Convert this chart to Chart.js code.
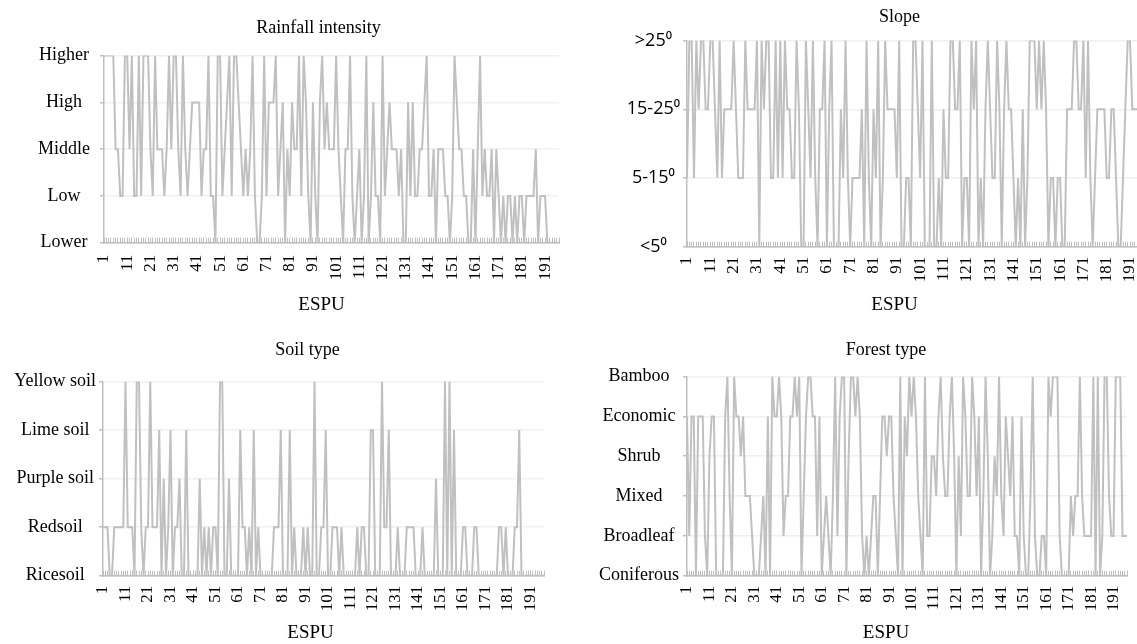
<!DOCTYPE html>
<html>
<head>
<meta charset="utf-8">
<script src="https://cdn.jsdelivr.net/npm/chart.js@4"></script>
<style>
  html, body { margin: 0; padding: 0; background: #fff; overflow: hidden; }
  body { width: 1137px; height: 644px; position: relative; }
  .panel { position: absolute; }
</style>
</head>
<body>
<div class="panel" style="left:0px;top:0px;"><canvas id="c1" width="575" height="316"></canvas></div>
<div class="panel" style="left:580px;top:0px;"><canvas id="c2" width="570" height="316"></canvas></div>
<div class="panel" style="left:0px;top:330px;"><canvas id="c3" width="575" height="314"></canvas></div>
<div class="panel" style="left:580px;top:330px;"><canvas id="c4" width="557" height="314"></canvas></div>
<script>
// ---------- DATA ----------
const N = 197;
const espuLabels = Array.from({length: N}, (_, i) => String(i + 1));

const rainfallLevels = ['Lower', 'Low', 'Middle', 'High', 'Higher'];
const rainfall = [
  4,4,4,4,4,2,2,1,1,4,
  4,2,4,1,1,4,1,4,4,4,
  2,1,4,2,2,2,1,2,4,2,
  4,4,2,1,4,2,1,2,3,3,
  3,3,1,2,2,4,1,1,0,4,
  4,1,2,3,4,1,4,4,3,2,
  1,2,1,2,4,1,0,0,1,4,
  1,3,3,3,4,1,2,3,0,2,
  1,3,2,2,4,1,4,3,1,0,
  3,1,0,3,4,2,3,2,2,2,
  4,2,1,0,2,2,4,1,0,1,
  2,0,1,4,0,1,3,1,1,0,
  4,1,2,3,2,2,2,1,2,0,
  0,3,1,3,1,1,2,2,3,4,
  1,1,2,0,2,2,2,1,1,0,
  1,4,3,2,2,1,1,0,0,2,
  0,2,4,1,2,1,1,2,0,2,
  1,0,1,0,1,1,0,1,0,1,
  1,0,1,1,1,1,2,0,1,1,
  1,0,0,0,0,0,0
];

const slopeLevels = ['<5\u2070', '5-15\u2070', '15-25\u2070', '>25\u2070'];
const slope = [
  1,3,3,1,3,2,3,3,2,2,
  3,3,2,1,3,1,2,2,2,2,
  3,2,1,1,1,3,2,2,2,2,
  3,0,3,2,3,3,1,1,3,1,
  3,1,3,2,2,1,1,3,2,0,
  0,3,2,1,3,1,0,2,2,3,
  0,2,3,0,0,0,2,1,3,1,
  0,1,1,1,1,2,0,3,1,0,
  2,1,3,0,1,3,2,2,2,2,
  1,3,0,0,1,1,0,3,3,2,
  1,3,0,0,0,3,0,0,1,0,
  2,1,1,3,3,2,2,3,0,1,
  1,0,3,2,3,0,1,0,2,3,
  2,1,1,3,2,0,2,3,2,2,
  1,0,1,0,2,0,1,3,3,3,
  2,3,2,3,2,0,1,1,0,1,
  1,0,0,2,2,2,3,3,2,2,
  3,1,3,1,0,1,2,2,2,2,
  1,1,2,2,1,0,0,1,2,3,
  3,2,2,2,2,2,2
];

const soilLevels = ['Ricesoil', 'Redsoil', 'Purple soil', 'Lime soil', 'Yellow soil'];
const soil = [
  1,1,1,0,0,1,1,1,1,1,
  4,1,1,1,0,4,4,1,0,1,
  1,4,1,1,1,3,0,2,0,1,
  3,0,1,1,2,0,0,3,0,0,
  0,0,0,2,0,1,0,1,0,1,
  1,0,4,4,0,0,2,0,0,0,
  0,3,1,1,0,1,0,3,0,1,
  0,0,0,0,0,0,1,1,1,3,
  0,0,0,3,0,1,0,0,0,1,
  0,1,0,0,4,0,0,1,1,3,
  0,0,1,1,1,0,1,0,0,0,
  0,0,0,1,0,1,1,0,0,3,
  3,0,0,0,4,1,1,3,0,0,
  0,1,0,0,0,1,1,1,1,0,
  0,0,1,0,0,0,0,0,2,0,
  0,0,4,0,4,0,3,0,0,0,
  1,1,0,0,0,1,1,0,0,0,
  0,0,0,0,0,0,1,1,0,1,
  0,0,0,1,1,3,0,0,0,0,
  0,0,0,0,0,0,0
];

const forestLevels = ['Coniferous', 'Broadleaf', 'Mixed', 'Shrub', 'Economic', 'Bamboo'];
const forest = [
  4,1,4,4,0,4,4,4,1,0,
  3,4,4,0,0,0,0,4,5,2,
  0,5,4,4,3,4,2,2,2,1,
  0,0,0,1,2,0,4,0,5,4,
  4,5,4,1,2,2,4,4,5,4,
  5,0,2,4,5,5,4,4,1,4,
  0,1,2,1,0,2,5,1,4,5,
  5,0,3,5,5,4,5,4,1,0,
  1,0,1,2,2,0,2,4,4,3,
  4,4,2,1,0,5,0,4,3,5,
  4,5,4,2,1,0,5,1,1,3,
  3,2,4,5,3,2,2,4,5,3,
  0,3,1,5,4,2,2,5,4,2,
  4,0,2,5,3,0,1,3,2,5,
  2,1,4,3,2,4,1,1,0,4,
  1,0,0,2,5,1,0,0,1,1,
  0,5,4,5,5,5,1,0,0,0,
  0,2,1,2,2,5,2,1,1,1,
  1,5,0,5,0,1,5,5,2,1,
  1,5,5,5,1,1,1
];

// ---------- STYLE ----------
const SERIF = "'Liberation Serif', 'Times New Roman', serif";
const SANS = "'Open Sans', 'DejaVu Sans', sans-serif";
const LINE = '#c0c0c0';
const AXIS = '#bfbfbf';
const GRID = '#f0f0f0';
const TEXT = '#000000';

// shifts the title / subtitle boxes horizontally (Excel centres them over the whole chart)
const shiftTextPlugin = {
  id: 'shiftText',
  afterLayout(chart, args, opts) {
    const t = chart.titleBlock;
    if (t && opts.title) { t.left += opts.title; t.right += opts.title; }
    chart.boxes.forEach(b => {
      if (b !== t && b.options && b.options.text === 'ESPU' && opts.sub) {
        b.left += opts.sub; b.right += opts.sub;
      }
    });
  }
};

function makeChart(id, cfg) {
  const yFont = cfg.yFont || {family: SERIF, size: 18};
  return new Chart(document.getElementById(id), {
    type: 'line',
    plugins: [shiftTextPlugin],
    data: {
      labels: espuLabels,
      datasets: [{
        data: cfg.values,
        borderColor: LINE,
        borderWidth: 2,
        pointRadius: 0,
        tension: 0,
        fill: false
      }]
    },
    options: {
      responsive: false,
      animation: false,
      layout: { padding: cfg.pad },
      plugins: {
        legend: { display: false },
        tooltip: { enabled: false },
        shiftText: { title: cfg.titleDx, sub: cfg.subDx },
        title: {
          display: true,
          text: cfg.title,
          fullSize: false,
          color: TEXT,
          font: { family: SERIF, size: 18, weight: 'normal' },
          padding: cfg.titlePad
        },
        subtitle: {
          display: true,
          text: 'ESPU',
          position: 'bottom',
          fullSize: false,
          color: TEXT,
          font: { family: SERIF, size: 19, weight: 'normal' },
          padding: { top: cfg.subPad, bottom: 0 }
        }
      },
      scales: {
        x: {
          type: 'category',
          afterFit: (s) => { s.paddingLeft = 0; s.paddingRight = 0; },
          grid: { drawOnChartArea: false, drawTicks: true, tickLength: -5, tickColor: AXIS, lineWidth: 1 },
          border: { display: true, color: AXIS, width: 1.5 },
          ticks: {
            autoSkip: false,
            minRotation: 90,
            maxRotation: 90,
            padding: cfg.xPad,
            color: TEXT,
            font: { family: SERIF, size: 17 },
            callback: function (v, i) { return i % 10 === 0 ? this.getLabelForValue(v) : ''; }
          }
        },
        y: {
          type: 'linear',
          min: 0,
          max: cfg.levels.length - 1,
          afterFit: (s) => { s.width = cfg.yWidth; },
          grid: { color: GRID, lineWidth: 1.5, tickLength: 4, tickColor: AXIS },
          border: { display: true, color: AXIS, width: 1.5 },
          ticks: {
            stepSize: 1,
            crossAlign: 'center',
            padding: cfg.yPad,
            color: TEXT,
            font: yFont,
            callback: (v) => cfg.levels[v]
          }
        }
      }
    }
  });
}

makeChart('c1', {
  title: 'Rainfall intensity', values: rainfall, levels: rainfallLevels,
  pad: { left: 0, right: 16, top: 0, bottom: 0 }, titlePad: { top: 17, bottom: 17 },
  yWidth: 104, yPad: 10, xPad: 17, subPad: -4, titleDx: -13, subDx: -10
});
makeChart('c2', {
  title: 'Slope', values: slope, levels: slopeLevels,
  pad: { left: 0, right: 6, top: 0, bottom: 0 }, titlePad: { top: 6, bottom: 13 },
  yWidth: 107, yPad: 3, xPad: 15, subPad: -4, titleDx: -16, subDx: -21,
  yFont: { family: SANS, size: 18 }
});
makeChart('c3', {
  title: 'Soil type', values: soil, levels: soilLevels,
  pad: { left: 0, right: 31, top: 0, bottom: 0 }, titlePad: { top: 9, bottom: 21 },
  yWidth: 103, yPad: 3, xPad: 15, subPad: -5, titleDx: -16, subDx: -13
});
makeChart('c4', {
  title: 'Forest type', values: forest, levels: forestLevels,
  pad: { left: 0, right: 10, top: 0, bottom: 0 }, titlePad: { top: 9, bottom: 16 },
  yWidth: 107, yPad: 4, xPad: 15, subPad: -5, titleDx: -21, subDx: -21
});
</script>
</body>
</html>
